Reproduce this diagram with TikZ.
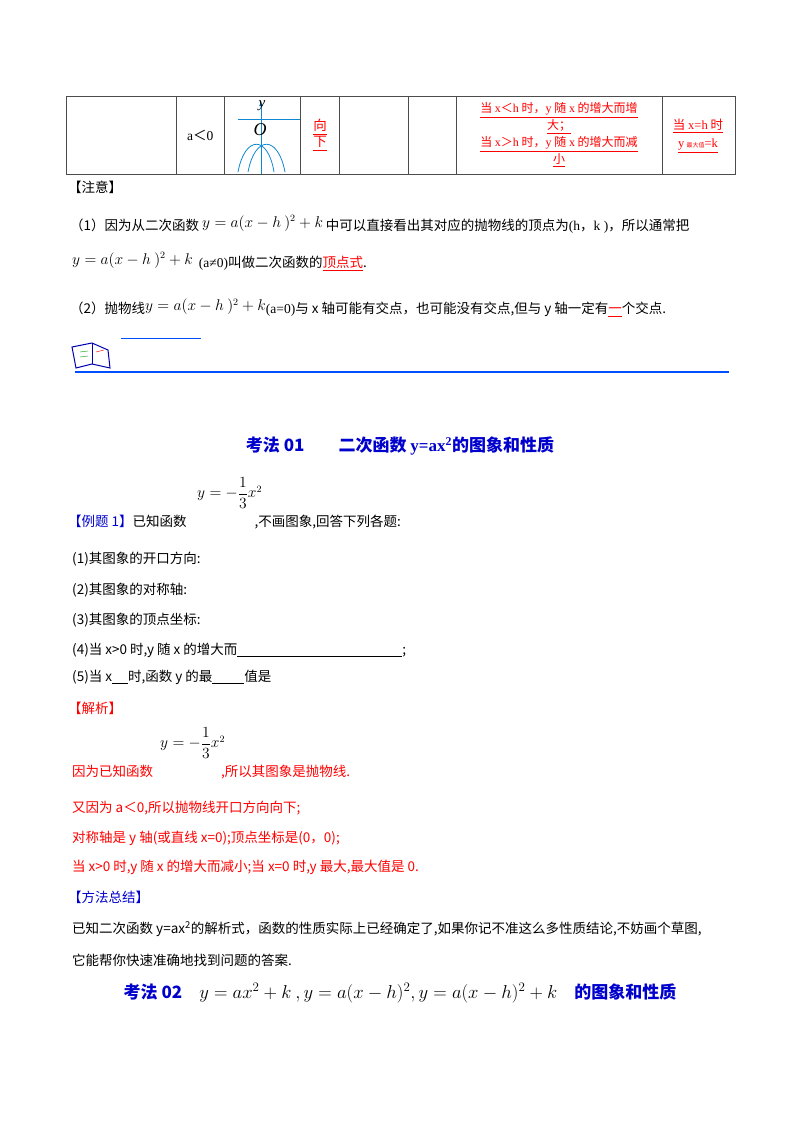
\documentclass[tikz,border=0pt]{standalone}
\usepackage{amsmath}
\usepackage{graphicx}
\usepackage{fontspec}
\setmainfont{Noto Sans CJK SC}
\newfontfamily\lat{Liberation Serif}
\newcommand{\fm}[1]{\scalebox{1.08}{$#1$}}
\begin{document}
\begin{tikzpicture}[x=1pt,y=-1pt,
 t/.style={anchor=west,inner sep=0pt,font=\fontsize{13.5}{16}\selectfont},
 r/.style={t,text=red},
 h/.style={anchor=center,inner sep=0pt,font=\bfseries\fontsize{17}{19}\selectfont,text=blue!80!black},
 cell/.style={draw=black!70,line width=0.8pt}]
\useasboundingbox (0,0) rectangle (800,1132);
% table
\draw[cell] (66,96) rectangle (735,174);
\foreach \x in {176,224,300,339,408,456,662}{\draw[cell] (\x,96) -- (\x,174);}
\node[t] (a0) at (187,135) {{\lat a}＜{\lat 0}};
\draw[cyan!70!blue,thick] (238,119)--(300,119);
\draw[cyan!70!blue,thick,-latex] (261,174)--(261,101);
\node[inner sep=0pt,font=\itshape\fontsize{15}{15}\selectfont] (ylab) at (262,106) {\lat y};
\node[inner sep=0pt,font=\itshape\fontsize{18}{18}\selectfont] (olab) at (260,130) {\lat O};
\draw[cyan!70!blue,thick] (238,172) .. controls (245,135) and (268,135) .. (274,172);
\draw[cyan!70!blue,thick] (248,172) .. controls (255,135) and (278,135) .. (285,172);
\node[r,anchor=center,align=center] (dn) at (320,135) {\underline{向}\\\underline{下}};
\node[r,anchor=center,align=center,font=\fontsize{12}{17}\selectfont] (inc) at (559,135) {\underline{当 {\lat x}＜{\lat h} 时，{\lat y} 随 {\lat x} 的增大而增}\\\underline{大；}\\\underline{当 {\lat x}＞{\lat h} 时，{\lat y} 随 {\lat x} 的增大而减}\\\underline{小}};
\node[r,anchor=center,align=center,font=\fontsize{12.5}{18}\selectfont] (mx) at (698,136) {\underline{当 {\lat x=h} 时}\\\underline{{\lat y}\,{\fontsize{6}{6}\selectfont 最大值}{\lat =k}}};
% notes
\node[t] (n0) at (68,187) {【注意】};
\node[t] (n1) at (70,224) {（1）因为从二次函数 \raisebox{3pt}{\fm{y=a(x-h\ )^2+k}} 中可以直接看出其对应的抛物线的顶点为{\lat(h}，{\lat k )}，所以通常把};
\node[t] (n2) at (72,262) {\raisebox{3pt}{\fm{y=a(x-h\ )^2+k}} \ {\lat(a≠0)}叫做二次函数的\textcolor{red}{\underline{顶点式}}.};
\node[t] (n3) at (70,308) {（2）抛物线\raisebox{3pt}{\fm{y=a(x-h\ )^2+k}}{\lat(a=0)}与 x 轴可能有交点，也可能没有交点,但与 y 轴一定有\textcolor{red}{\underline{一}}个交点.};
% icon
\draw[blue!70!cyan,line width=0.8pt] (121,338)--(201,338);
\draw[blue!70!black,line width=1pt,fill=white] (72,347) -- (92,343) -- (108,350) -- (110,368) -- (92,364) -- (76,368) -- cycle;
\draw[blue!70!black] (92,343)--(92,364);
\draw[green!60!black] (80,352)--(88,351) (80,357)--(88,356);
\draw[red] (96,352)--(104,350);
\draw[blue!70!cyan,line width=2pt] (75,372)--(729,372);
% heading
\node[h] (h1) at (400,446) {考法 01\qquad 二次函数 {\lat y=ax$^{\text{2}}$}的图象和性质};
\node[t] (f1) at (197,493) {\fm{y=-\dfrac{1}{3}x^2}};
\node[t] (e1) at (68,522) {\textcolor{blue!80!black}{【例题 1】}已知函数\hspace{68pt},不画图象,回答下列各题:};
\node[t] (q1) at (72,559) {(1)其图象的开口方向:};
\node[t] (q2) at (72,590) {(2)其图象的对称轴:};
\node[t] (q3) at (72,620) {(3)其图象的顶点坐标:};
\node[t] (q4) at (72,650) {(4)当 x>0 时,y 随 x 的增大而\underline{\hspace{165pt}};};
\node[t] (q5) at (72,677) {(5)当 x\underline{\hspace{16pt}}时,函数 y 的最\underline{\hspace{32pt}}值是};
\node[t,text=red] (j) at (68,708) {【解析】};
\node[t] (f2) at (160,743) {\fm{y=-\dfrac{1}{3}x^2}};
\node[r] (s1) at (72,772) {因为已知函数\hspace{68pt},所以其图象是抛物线.};
\node[r] (s2) at (72,808) {又因为 a＜0,所以抛物线开口方向向下;};
\node[r] (s3) at (72,838) {对称轴是 y 轴(或直线 x=0);顶点坐标是(0，0);};
\node[r] (s4) at (72,867) {当 x>0 时,y 随 x 的增大而减小;当 x=0 时,y 最大,最大值是 0.};
\node[t,text=blue!80!black] (m) at (68,897) {【方法总结】};
\node[t] (m1) at (72,929) {已知二次函数 y=ax$^{\text{2}}$的解析式，函数的性质实际上已经确定了,如果你记不准这么多性质结论,不妨画个草图,};
\node[t] (m2) at (72,960) {它能帮你快速准确地找到问题的答案.};
\node[h] (h2) at (400,993) {考法 02\quad \textcolor{black}{\mdseries\fm{y=ax^2+k\ ,y=a(x-h)^2,y=a(x-h)^2+k}}\quad 的图象和性质};
\end{tikzpicture}
\end{document}
